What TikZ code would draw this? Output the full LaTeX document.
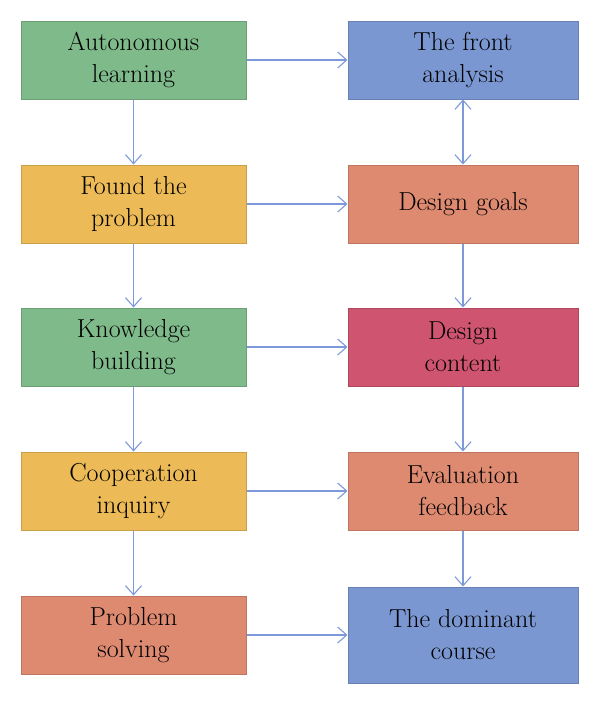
\documentclass[tikz,border=0pt]{standalone}
\usetikzlibrary{arrows.meta,positioning}

\definecolor{cgreen}{HTML}{7FBA8A}
\definecolor{cyellow}{HTML}{ECBB57}
\definecolor{cblue}{HTML}{7B97D1}
\definecolor{csalmon}{HTML}{DE8A71}
\definecolor{cred}{HTML}{CE546F}
\definecolor{carrow}{HTML}{7D99DA}

\begin{document}
\begin{tikzpicture}[
  x=1pt, y=-1pt,
  font=\fontsize{26}{32}\selectfont,
  box/.style={rectangle, draw=#1!85!black, line width=1pt, fill=#1,
              minimum width=225pt, minimum height=78pt, align=center, inner sep=2pt},
  rbox/.style={box=#1, minimum width=230pt},
  arr/.style={-{Straight Barb[length=9pt,width=16pt,line width=1.1pt]}, draw=carrow, line width=1.1pt},
  darr/.style={{Straight Barb[length=9pt,width=16pt,line width=1.1pt]}-{Straight Barb[length=9pt,width=16pt,line width=1.1pt]}, draw=carrow, line width=1.1pt}
]
\useasboundingbox (0,0) rectangle (600,705);

%% left column
\node[box=cgreen] (auto) at (133.5, 60) {Autonomous\\learning};
\node[box=cyellow] (found) at (133.5, 204) {Found the\\problem};
\node[box=cgreen] (know) at (133.5, 347) {Knowledge\\building};
\node[box=cyellow] (coop) at (133.5, 491) {Cooperation\\inquiry};
\node[box=csalmon] (solve) at (133.5, 635) {Problem\\solving};

%% right column
\node[rbox=cblue] (front) at (463, 60) {The front\\analysis};
\node[rbox=csalmon] (goals) at (463, 204) {Design goals};
\node[rbox=cred] (content) at (463, 347) {Design\\content};
\node[rbox=csalmon] (eval) at (463, 491) {Evaluation\\feedback};
\node[rbox=cblue, minimum height=96pt] (course) at (463, 635) {The dominant\\course};

%% edges
\draw[arr] (auto) -- (found);
\draw[arr] (found) -- (know);
\draw[arr] (know) -- (coop);
\draw[arr] (coop) -- (solve);
\draw[darr] (front) -- (goals);
\draw[arr] (goals) -- (content);
\draw[arr] (content) -- (eval);
\draw[arr] (eval) -- (course);
\foreach \a/\b in {auto/front, found/goals, know/content, coop/eval, solve/course}
  \draw[arr] (\a) -- (\b);
\end{tikzpicture}
\end{document}
